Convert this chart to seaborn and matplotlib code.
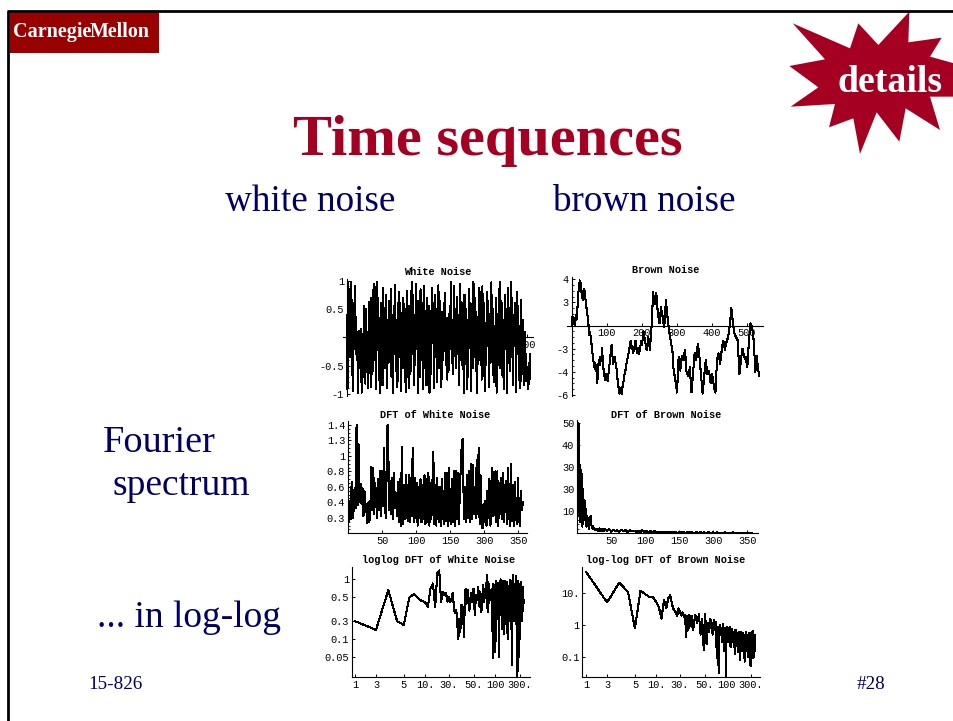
import numpy as np
import pandas as pd
import matplotlib
matplotlib.use("Agg")
import matplotlib.pyplot as plt
from matplotlib.ticker import FixedLocator, FixedFormatter, NullLocator
import seaborn as sns

sns.set_theme(style="white")
W, H = 954, 721

white_noise = [
 .40,-.92,.98,-.10,.85,-.35,.97,.15,-.95,.60,-.20,.90,.17,-.30,.10,-.98,-.35,.12,-.55,.14,
 -.98,.05,-.70,.55,-.15,-.82,.50,-.60,.10,-.90,.62,-.50,.70,-.88,.20,-.60,.95,-.40,.72,-.92,
 .98,-.20,.70,-.75,.35,-.98,.60,.10,-.85,.88,-.30,.40,-.55,.75,-.90,.30,-.45,.65,-.25,.85,
 -.70,.40,-.98,.55,-.30,.92,-.60,.25,-.88,.45,.80,-.35,.60,-.95,.35,-.55,.70,-.15,-.80,.50,
 -.97,.82,-.25,.55,-.90,.45,-.60,.98,-.30,.75,-.85,.40,-.50,.95,-.20,.65,-.98,.30,-.70,.85,
 -.40,.60,-.92,.20,.90,-.55,.45,-.85,.70,-.30,.55,-.98,.35,-.65,.88,-.10,.60,-.90,.75,-.35,
 .50,-.80,.30,.92,-.55,.65,-.20,-.88,.45,-.40,.60,-.25,.78,-.50,.35,-.75,.15,-.58,.55,-.20,
 .98,-.45,.30,-.65,.90,-.15,.50,-.55,.72,-.30,.40,-.85,.95,-.25,.62,-.50,.25,-.98,.75,-.40,
 .50,-.92,.30,-.70,.85,-.15,.60,-.95,.20,-.55,.98,-.35,.70,-.60,.45,-.98,.30,-.40,.88,-.20,
 .55,-.75,.90,-.30,.60,-.96,.25,-.50,.80,-.15,.65,-.88,.35,-.45,.97,-.30,.50,-.80,.20,-.62,
 .70,-.98,.40,-.25,.85,-.55,.98,-.35,.60,-.70,.30,-.92,.75,-.20,.50,-.98,.88,-.45,.25,-.60,
 .98,-.35,.70,-.85,.40,-.15,.60,-.97,.80,-.30,.55,-.75,.20,-.90,.66,-.50,.30,-.62,-.85,.10,
 -.40,-.78,-.60,-.92,-.45,-.82,-.30,
]

brown_noise = [
 0,.75,.1,.6,0,.9,.5,1.2,2.75,3.1,3.9,3.7,3.0,2.5,2.2,3.2,3.0,2.4,1.9,1.2,.75,.1,-.8,-.6,-1.1,-1.7,
 -2.4,-2.9,-3.6,-3.2,-3.9,-3.4,-5,-3.8,-3,-3.4,-2.7,-3.1,-1.9,-3.1,-3.9,-4.4,-4.7,-4.2,-4.3,-4.8,
 -4.2,-3.6,-3,-2.2,-1.7,-2.6,-3.3,-2.8,-2.7,-3.3,-3.6,-4.4,-5,-5.5,-5.9,-5.4,-5.5,-5.9,-5,-4.8,
 -4.3,-4.0,-3.6,-3.1,-2.8,-2.5,-2.1,-1.7,-1.3,-1.8,-2,-2.4,-2.1,-1.7,-1.3,-2.0,-2.4,-1.9,-2.5,-2.2,
 -1.8,-1.3,-1.7,-1.1,-.5,-1.0,-1.3,-1.9,-2.1,-1.5,-1,-1.6,-2.1,-1.1,-.1,1.5,2.9,2.2,1.9,2.6,2.8,1.8,1,
 .6,.2,1,1.6,1.0,.75,.2,-.1,1.1,2.2,1.4,.75,.1,-.4,-.9,-1.3,-1.7,-2,-3.2,-4.2,-4.3,-4.8,-5.3,-5.8,
 -4.1,-2.7,-3.4,-3.9,-3.2,-2.6,-2.9,-3,-2.5,-2.1,-3.1,-4.2,-4.1,-4.4,-4.0,-3.6,-4.8,-5.8,-5.0,-4.2,
 -3.2,-2.4,-2.9,-3,-2.2,-1.6,-2.1,-2.7,-3.5,-4.2,-5.1,-5.9,-5.1,-4.2,-3.6,-3,-3.7,-4.2,-4.1,-3.9,
 -4.5,-5,-4.5,-4.2,-4.8,-5.2,-5.6,-5.8,-4.4,-3,-2.6,-2.4,-2.9,-3.3,-2.6,-2.1,-1.6,-1.3,-1.8,-2.1,
 -1.7,-1.4,-1.2,-1,-.4,0,.8,1.5,.8,.2,-.3,-.7,-.9,-1,-1.2,-1.3,-2.8,-4.2,-3.6,-3,-2.4,-2,-2.4,-2.6,
 -2.9,-2.7,-3.2,-3.6,-2.4,-1.3,-.5,.2,0,-.1,-.8,-1.3,-2.7,-4,-3.2,-2.6,-3.6,-4.0,-4.4,
]

dft_white = [
 .16,.42,.18,.66,.20,.30,.58,.32,1.40,.36,1.15,.40,.64,.38,.58,.22,.55,.28,.38,.13,
 .40,.14,.33,.86,.30,.84,.25,.65,.40,.20,.70,.30,.80,.22,.80,.35,1.10,.30,.20,1.38,
 1.40,.30,.68,.25,.72,.18,.78,.32,.52,.22,.66,.15,.70,.09,1.12,.12,.62,.18,.75,.30,
 .16,.76,.15,.72,.22,1.10,.14,.72,.20,.65,.10,.60,.20,.70,.14,.62,.18,.75,.12,.70,
 .15,.78,.10,.65,.18,.60,1.05,.12,.62,.10,.72,.20,.14,.60,.10,.70,.20,.12,.78,.16,
 .78,.10,.85,.18,.12,.70,.15,.80,.09,.80,.18,.78,.12,.60,.88,1.20,1.22,.18,.60,.14,
 .75,.20,.80,.15,.90,.18,.88,.25,.60,.20,.95,.25,1.10,.12,.75,.08,.07,.38,.14,.42,
 .10,.55,.20,.70,.10,.40,.85,.22,.35,.80,.14,.80,.09,.65,.25,.72,.18,.78,.14,.60,
 .68,.12,.85,.24,.10,.90,.16,.62,.10,.66,.22,.12,.72,.20,.10,.55,.30,.40,
]

dft_brown_head = [
 50,8,49,5,31,12,27,3,20,9,15,6,11,3,8,4,7,2,6,8,4,2.5,3.5,2,2.5,1.6,2,1.5,1.8,1.2,2,1.1,2.2,1.3,1.6,1,2,1.2,2.1,1,
]
dft_brown_tail = [
 1.8,1,2,.8,1.6,1,1.4,.7,1.7,.9,1.5,.6,1.3,1,1.2,.6,1.1,.5,1.3,.7,1,.4,.9,.6,1,.3,.8,.5,.8,.3,.7,.4,.6,.3,.7,.2,.6,.3,.5,.2,
 .6,.3,.5,.1,.5,.2,.5,.2,.4,.1,.5,.2,.4,.1,.4,.2,.3,.1,.4,.2,.3,.1,.4,.1,.3,.2,.3,.1,.3,.1,.3,.2,
]

ll_white_head = [
 .20,.143,.66,.20,.173,.50,.57,.48,.43,.42,.34,.70,.85,.34,1.26,1.40,.42,.62,.55,.58,
 .42,.51,.42,.48,.60,.31,.27,.31,.17,.10,.22,.13,.37,.37,.31,.11,.37,.70,
]
ll_white_tail = [
 .38,.65,.30,.58,.42,.70,.25,.55,.45,.75,.35,.62,.28,.55,.80,.42,.60,.50,1.20,.28,.90,.40,.65,.45,.55,.70,
 .048,.85,.40,.70,.06,.95,.30,.75,.22,.88,.05,.60,.25,1.00,.35,.80,.15,.92,.30,.70,.12,.95,.25,.85,.18,.70,
 .35,.90,.10,.75,.30,.60,.20,.98,.28,.72,.15,.80,.42,.95,.037,.70,.25,1.20,.30,.80,.20,.85,.40,.60,.18,1.15,
 .30,.75,.42,.90,.022,.70,.30,.95,.25,.05,.60,.85,.35,.75,.10,.80,.40,.90,.30,.70,.20,.62,.40,.75,.30,.55,.45,.40,
]

ll_brown_head = [
 48,5.2,22,10.7,.78,12,9.5,7.8,7.8,5.5,3.6,1.6,6.2,3.4,7,8.9,4.3,3,2.6,1.9,3.4,2.6,2,2.5,1.8,2.1,.42,1.9,.7,2.1,1.2,.9,1.9,
]
ll_brown_tail = [
 .7,2.1,1.2,2.2,.5,1.6,.16,2.2,.25,1.2,.6,1.6,1.1,.5,1.5,.7,1.3,.09,.9,.03,1.0,.5,.8,.3,1.1,.6,.15,.8,.025,.9,.6,.3,.8,.5,.9,.2,
 .7,.4,.75,.3,.6,.2,.7,.12,.5,.7,.22,.55,.35,.14,.6,.2,.5,.08,.45,.25,.6,.15,.4,.3,.55,.18,.35,.5,.07,.45,.2,.6,.3,.15,.45,.25,
 .5,.1,.4,.2,.55,.12,.35,.25,.45,.05,.4,.2,.6,.15,.35,.28,.65,.09,.5,.2,.3,.45,.1,.5,
]

titles = ["White Noise", "Brown Noise", "DFT of White Noise", "DFT of Brown Noise",
          "loglog DFT of White Noise", "log-log DFT of Brown Noise"]
wn_yticks, wn_ylabels = [1, .5, -.5, -1], ["1", "0.5", "-0.5", "-1"]
wn_xticks, wn_xlabels = [100, 200, 300, 400, 500], ["100", "200", "300", "400", "500"]
bn_yticks, bn_ylabels = [4, 2, -2, -4, -6], ["4", "3", "-3", "-4", "-6"]
dw_yticks, dw_ylabels = [1.4, 1.2, 1, .8, .6, .4, .2], ["1.4", "1.3", "1", "0.8", "0.6", "0.4", "0.3"]
db_yticks, db_ylabels = [50, 40, 30, 20, 10], ["50", "40", "30", "30", "10"]
dft_xticks, dft_xlabels = [50, 100, 150, 200, 250], ["50", "100", "150", "300", "350"]
log_xticks, log_xlabels = [1, 2, 5, 10, 22, 50, 100, 225], ["1", "3", "5", "10.", "30.", "50.", "100", "300."]
lw_yticks, lw_ylabels = [1, .5, .2, .1, .05], ["1", "0.5", "0.3", "0.1", "0.05"]
lb_yticks, lb_ylabels = [10, 1, .1], ["10.", "1", "0.1"]

CMU = "#990000"
STAR = "#A50021"
NAVY = "#000066"
MONO = "Liberation Mono"
SERIF = "Liberation Serif"

star_outline = [(68,70),(240,145),(265,70),(325,135),(418,35),(415,127),(515,113),(480,170),
                (552,190),(552,290),(480,290),(510,390),(407,325),(388,425),(320,337),(270,462),
                (250,355),(177,382),(195,312),(62,320),(145,262),(58,198),(165,178)]

fig = plt.figure(figsize=(W / 100, H / 100), dpi=100, facecolor="white")
bg = fig.add_axes([0, 0, 1, 1], zorder=0)
bg.set_xlim(0, W); bg.set_ylim(H, 0); bg.axis("off")

bg.plot([8.5, 8.5], [721, 10.5], color="black", lw=2.0, solid_capstyle="butt")
bg.plot([7.5, 954], [10.5, 10.5], color="black", lw=2.0, solid_capstyle="butt")
bg.fill([10, 159, 159, 10], [12, 12, 53, 53], color=CMU, lw=0)
bg.text(13, 37, "Carnegie", color="white", family=SERIF, weight="bold", size=14.5, va="baseline")
bg.text(90, 37, "Mellon", color="white", family=SERIF, weight="bold", size=14.4, va="baseline")
bg.fill([770 + p[0] / 3 for p in star_outline], [p[1] / 3 for p in star_outline], color=STAR, lw=0)
bg.text(838, 92, "details", color="white", family=SERIF, weight="bold", size=27.2, va="baseline")
bg.text(487.5, 155, "Time sequences", color=STAR, family=SERIF, weight="bold", size=42, ha="center", va="baseline")
for x, y, s, size in [(225, 211, "white noise", 26.7), (553, 211, "brown noise", 26.7),
                      (103, 452, "Fourier", 27.5), (113, 495, "spectrum", 27),
                      (97, 627, "... in log-log", 27), (88, 689, "15-826", 13.8), (857, 689, "#28", 13.8)]:
    bg.text(x, y, s, color=NAVY, family=SERIF, size=size, va="baseline")


def panel(left, right, top, bottom, xlim, ylim, xs, ys, title, tx, ty,
          xticks, xlabels, yticks, ylabels, yminor=None, log=False, y0=False, x0=False):
    ax = fig.add_axes([left / W, 1 - bottom / H, (right - left) / W, (bottom - top) / H], zorder=2)
    ax.patch.set_alpha(0)
    if log:
        ax.set_xscale("log"); ax.set_yscale("log")
    frame = pd.DataFrame({"x": xs, "y": ys})
    sns.lineplot(data=frame, x="x", y="y", ax=ax, estimator=None, sort=False, color="black",
                 lw=0.75, antialiased=False, zorder=3)
    ax.set_xlim(*xlim); ax.set_ylim(*ylim)
    ax.set_xlabel(""); ax.set_ylabel("")
    ax.set_axisbelow(True)
    for s in ("top", "right"):
        ax.spines[s].set_visible(False)
    for s in ("left", "bottom"):
        ax.spines[s].set_linewidth(0.8); ax.spines[s].set_color("black")
    if x0:
        ax.spines["bottom"].set_position(("data", 0))
    if y0:
        ax.spines["left"].set_position(("data", 0))
    ax.xaxis.set_major_locator(FixedLocator(xticks)); ax.xaxis.set_major_formatter(FixedFormatter(xlabels))
    ax.yaxis.set_major_locator(FixedLocator(yticks)); ax.yaxis.set_major_formatter(FixedFormatter(ylabels))
    ax.xaxis.set_minor_locator(NullLocator())
    ax.yaxis.set_minor_locator(FixedLocator(yminor) if yminor is not None else NullLocator())
    ax.tick_params(axis="both", which="major", direction="in", length=2.5, width=0.7, color="black", pad=2,
                   left=True, bottom=True, labelsize=7.4, labelcolor="black")
    ax.tick_params(axis="y", which="minor", direction="in", length=1.3, width=0.6, color="black", left=True)
    for t in ax.get_xticklabels() + ax.get_yticklabels():
        t.set_fontfamily(MONO)
    bg.text(tx, ty, title, family=MONO, weight="bold", size=7.4, color="black", ha="center", va="center")
    return ax


n_wn = np.linspace(0, 509, len(white_noise))
n_bn = np.linspace(0, 536, len(brown_noise))
n_dw = np.linspace(1, 257, len(dft_white))
db_x = np.r_[np.arange(1, len(dft_brown_head) + 1), np.linspace(len(dft_brown_head) + 1, 257, len(dft_brown_tail))]
lw_x = np.r_[np.arange(1, len(ll_white_head) + 1), np.linspace(len(ll_white_head) + 1, 257, len(ll_white_tail))]
lb_x = np.r_[np.arange(1, len(ll_brown_head) + 1), np.linspace(len(ll_brown_head) + 1, 257, len(ll_brown_tail))]

panel(342.7, 533, 279, 395.5, (-11.2, 517), (-1.03, 1.03), n_wn, white_noise, titles[0], 437.5, 272,
      wn_xticks, wn_xlabels, wn_yticks, wn_ylabels, yminor=np.arange(-.9, 1, .1), y0=True, x0=True)
panel(567, 763, 277, 396, (-13.4, 546.5), (-6.1, 4.2), n_bn, brown_noise, titles[1], 666, 270,
      wn_xticks, wn_xlabels, bn_yticks, bn_ylabels, yminor=np.arange(-5.5, 4, .5), y0=True, x0=True)
panel(348, 527, 420.7, 533.3, (0, 263), (0, 1.455), n_dw, dft_white, titles[2], 435, 415,
      dft_xticks, dft_xlabels, dw_yticks, dw_ylabels, yminor=np.arange(.05, 1.45, .05))
panel(577, 758, 420, 533.3, (0, 266), (0, 51.4), db_x, dft_brown_head + dft_brown_tail, titles[3], 666, 415,
      dft_xticks, dft_xlabels, db_yticks, db_ylabels, yminor=np.arange(2, 50, 2))
panel(351.7, 530, 567, 677, (.9, 316), (.0234, 1.6), lw_x, ll_white_head + ll_white_tail, titles[4], 439, 560,
      log_xticks, log_xlabels, lw_yticks, lw_ylabels, log=True)
panel(582.3, 760, 567, 677, (.886, 306), (.023, 68), lb_x, ll_brown_head + ll_brown_tail, titles[5], 666, 560,
      log_xticks, log_xlabels, lb_yticks, lb_ylabels, log=True)

fig.savefig("out.png", dpi=100, facecolor="white")
